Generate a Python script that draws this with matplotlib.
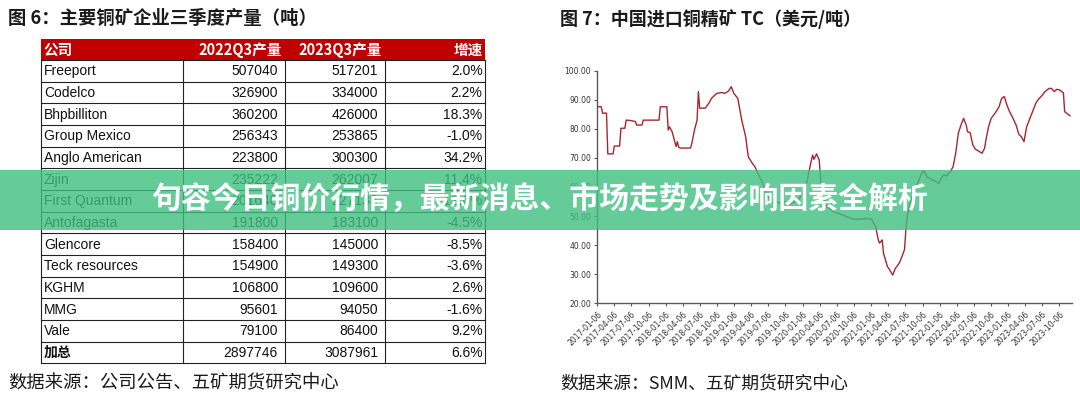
import matplotlib
matplotlib.use('Agg')
import matplotlib.pyplot as plt
import matplotlib.dates as mdates
from matplotlib.patches import Rectangle
from matplotlib.ticker import FormatStrFormatter
import pandas as pd

plt.rcParams['font.family'] = ['Noto Sans CJK SC', 'DejaVu Sans']

# ---- 图6 表格数据 ----
companies = ['Freeport', 'Codelco', 'Bhpbilliton', 'Group Mexico', 'Anglo American',
             'Zijin', 'First Quantum', 'Antofagasta', 'Glencore', 'Teck resources',
             'KGHM', 'MMG', 'Vale']
q3_2022 = [507040, 326900, 360200, 256343, 223800, 235222, 201640, 191800,
           158400, 154900, 106800, 95601, 79100]
q3_2023 = [517201, 334000, 426000, 253865, 300300, 262007, 227138, 183100,
           145000, 149300, 109600, 94050, 86400]
growth = [2.0, 2.2, 18.3, -1.0, 34.2, 11.4, 12.6, -4.5, -8.5, -3.6, 2.6, -1.6, 9.2]
total_2022 = 2897746
total_2023 = 3087961
total_growth = 6.6
headers = ['公司', '2022Q3产量', '2023Q3产量', '增速']

# ---- 图7 中国进口铜精矿 TC ----
tc_dates = ['2017-01-06', '2017-01-27', '2017-02-03', '2017-02-24', '2017-03-03', '2017-03-31',
            '2017-04-07', '2017-05-05', '2017-05-12', '2017-06-02', '2017-06-09', '2017-06-30',
            '2017-07-28', '2017-08-04', '2017-09-01', '2017-09-08', '2017-12-01', '2017-12-08',
            '2018-01-12', '2018-01-19', '2018-01-26', '2018-02-09', '2018-02-23', '2018-03-02',
            '2018-03-09', '2018-03-16', '2018-03-23', '2018-05-18', '2018-05-25', '2018-06-08',
            '2018-06-22', '2018-06-29', '2018-07-06', '2018-08-03', '2018-08-10', '2018-08-24',
            '2018-09-07', '2018-10-05', '2018-11-02', '2018-11-16', '2018-12-07', '2018-12-21',
            '2019-01-04', '2019-01-18', '2019-01-25', '2019-02-15', '2019-03-08', '2019-03-22',
            '2019-04-12', '2019-04-26', '2019-05-17', '2019-06-07', '2019-06-28', '2019-07-19',
            '2019-08-02', '2019-08-16', '2019-09-06', '2019-10-04', '2019-11-01', '2019-11-29',
            '2019-12-13', '2020-01-10', '2020-01-31', '2020-02-14', '2020-02-28', '2020-03-06',
            '2020-03-20', '2020-04-03', '2020-04-10', '2020-04-17', '2020-05-15', '2020-06-19',
            '2020-07-24', '2020-08-28', '2020-10-02', '2020-11-06', '2020-12-11', '2021-01-08',
            '2021-01-29', '2021-02-12', '2021-02-19', '2021-03-05', '2021-03-12', '2021-04-02',
            '2021-04-09', '2021-04-30', '2021-05-14', '2021-06-04', '2021-06-18', '2021-07-02',
            '2021-07-09', '2021-07-16', '2021-08-06', '2021-09-03', '2021-10-01', '2021-10-15',
            '2021-10-29', '2021-11-12', '2021-11-26', '2021-12-17', '2021-12-31', '2022-01-14',
            '2022-01-28', '2022-02-11', '2022-03-04', '2022-03-18', '2022-04-01', '2022-04-15',
            '2022-04-29', '2022-05-13', '2022-05-27', '2022-06-03', '2022-06-17', '2022-07-01',
            '2022-07-15', '2022-08-05', '2022-08-19', '2022-09-02', '2022-09-09', '2022-09-23',
            '2022-10-07', '2022-10-28', '2022-11-18', '2022-12-02', '2022-12-16', '2022-12-30',
            '2023-01-13', '2023-01-27', '2023-02-17', '2023-03-03', '2023-03-17', '2023-03-31',
            '2023-04-14', '2023-04-28', '2023-05-12', '2023-06-02', '2023-06-16', '2023-07-07',
            '2023-07-21', '2023-08-11', '2023-08-25', '2023-09-08', '2023-09-22', '2023-10-06',
            '2023-10-27', '2023-11-03', '2023-11-17', '2023-12-01']
tc_values = [87.6, 87.6, 85.4, 85.4, 71.4, 71.4,
             74.1, 74.1, 80.2, 80.2, 83.0, 82.9,
             82.5, 81.3, 81.3, 83.0, 83.0, 87.6,
             87.6, 79.6, 80.7, 79.0, 75.6, 73.9,
             75.6, 73.7, 73.4, 73.4, 75.0, 79.6,
             83.0, 92.8, 87.1, 87.1, 87.6, 88.8,
             90.5, 92.2, 92.5, 92.2, 93.0, 94.5,
             92.2, 91.1, 90.5, 83.0, 77.3, 70.4,
             68.2, 67.0, 64.1, 61.3, 57.5, 55.0,
             54.4, 55.0, 54.4, 55.0, 54.2, 55.0,
             55.5, 58.5, 62.4, 67.0, 71.0, 69.5,
             71.4, 69.3, 63.5, 57.8, 53.2, 51.5,
             50.7, 49.8, 48.9, 48.9, 49.2, 48.9,
             46.4, 41.8, 40.7, 41.8, 37.2, 32.6,
             32.0, 29.7, 32.0, 33.8, 36.0, 38.5,
             45.0, 49.8, 55.5, 60.1, 64.7, 65.6,
             63.4, 63.0, 62.5, 61.8, 61.2, 63.0,
             64.2, 63.8, 65.3, 67.0, 71.6, 78.5,
             81.3, 83.6, 81.3, 79.0, 78.7, 74.5,
             73.0, 72.2, 71.6, 73.3, 76.2, 80.7,
             83.6, 85.4, 87.6, 90.5, 91.1, 88.2,
             85.9, 84.2, 81.3, 78.2, 77.3, 75.6,
             80.7, 83.0, 85.4, 88.8, 90.2, 91.6,
             92.8, 93.9, 93.9, 92.8, 93.6, 93.4,
             92.4, 85.9, 85.2, 84.5]

banner_text = '句容今日铜价行情，最新消息、市场走势及影响因素全解析'

W, H = 1080, 399
fig = plt.figure(figsize=(W / 100, H / 100), dpi=100)

# 背景层（像素坐标）
bg = fig.add_axes([0, 0, 1, 1])
bg.set_xlim(0, W)
bg.set_ylim(H, 0)
bg.axis('off')

bg.text(8, 19, '图 6：主要铜矿企业三季度产量（吨）', fontsize=13.2, fontweight='bold',
        va='center', color='#1a1a1a')
bg.text(8, 383, '数据来源：公司公告、五矿期货研究中心', fontsize=13.2, va='center', color='#1a1a1a')
bg.text(560, 19, '图 7：中国进口铜精矿 TC（美元/吨）', fontsize=13, fontweight='bold',
        va='center', color='#1a1a1a')
bg.text(560, 383, '数据来源：SMM、五矿期货研究中心', fontsize=12.8, va='center', color='#1a1a1a')

# 表格
col_x = [41, 183, 285, 385, 485]
head_top, head_bot = 39, 60
row_h = 21.67
n_rows = len(companies) + 1
tab_bot = head_bot + n_rows * row_h

bg.add_patch(Rectangle((col_x[0], head_top), col_x[-1] - col_x[0], head_bot - head_top,
                       facecolor='#C00000', edgecolor='none'))
bg.text(43, (head_top + head_bot) / 2, headers[0], color='white', fontsize=10.5,
        fontweight='bold', va='center', ha='left')
for x, h in zip([281.5, 381.5, 482.5], headers[1:]):
    bg.text(x, (head_top + head_bot) / 2, h, color='white', fontsize=10.5,
            fontweight='bold', va='center', ha='right')

body_font = ['Liberation Sans', 'Noto Sans CJK SC']
rows = [(c, a, b, g) for c, a, b, g in zip(companies, q3_2022, q3_2023, growth)]
rows.append(('加总', total_2022, total_2023, total_growth))
for i, (c, a, b, g) in enumerate(rows):
    yc = head_bot + (i + 0.5) * row_h + 0.5
    if c == '加总':
        bg.text(44, yc, c, fontsize=10, fontweight='bold', va='center', color='#111')
    else:
        bg.text(44, yc, c, fontsize=10, va='center', color='#111', family=body_font)
    bg.text(278, yc, str(a), fontsize=10, va='center', ha='right', color='#111', family=body_font)
    bg.text(378, yc, str(b), fontsize=10, va='center', ha='right', color='#111', family=body_font)
    bg.text(482.5, yc, '%.1f%%' % g, fontsize=10, va='center', ha='right', color='#111',
            family=body_font)

for i in range(n_rows + 1):
    y = head_bot + i * row_h
    bg.plot([col_x[0], col_x[-1]], [y, y], color='#222', lw=0.8)
for x in col_x:
    bg.plot([x, x], [head_bot, tab_bot], color='#222', lw=0.8)

# 折线图
ax = fig.add_axes([597.3 / W, 1 - 303.3 / H, (1072 - 597.3) / W, (303.3 - 70.7) / H])
dates = pd.to_datetime(tc_dates)
ax.plot(dates, tc_values, color='#A8262E', lw=1.0)
ax.set_ylim(20, 100)
ax.set_yticks(range(20, 101, 10))
ax.yaxis.set_major_formatter(FormatStrFormatter('%.2f'))
ax.set_xlim(pd.Timestamp('2017-01-06'), pd.Timestamp('2023-12-12'))
xt = pd.date_range('2017-01-06', '2023-10-06', freq=pd.DateOffset(months=3))
ax.set_xticks(xt)
ax.set_xticklabels([d.strftime('%Y-%m-%d') for d in xt], rotation=45, ha='right',
                   rotation_mode='anchor', fontsize=5.5, color='#333', family='DejaVu Sans')
for lab in ax.get_yticklabels():
    lab.set_fontsize(5.5)
    lab.set_color('#333')
    lab.set_family('DejaVu Sans')
ax.tick_params(axis='both', direction='out', length=2.5, width=0.8, color='#595959', pad=2)
for s in ['top', 'right']:
    ax.spines[s].set_visible(False)
for s in ['left', 'bottom']:
    ax.spines[s].set_color('#595959')
    ax.spines[s].set_linewidth(1.0)
ax.patch.set_alpha(0)

# 横幅
ov = fig.add_axes([0, 0, 1, 1], zorder=10)
ov.set_xlim(0, W)
ov.set_ylim(H, 0)
ov.axis('off')
ov.patch.set_alpha(0)
ov.add_patch(Rectangle((0, 170), W, 59.5, facecolor='#3EC080', edgecolor='none', alpha=0.8))
ov.text(540, 200, banner_text, color='white', fontsize=21.5, fontweight='bold',
        ha='center', va='center')

fig.savefig('out.png', dpi=100)
